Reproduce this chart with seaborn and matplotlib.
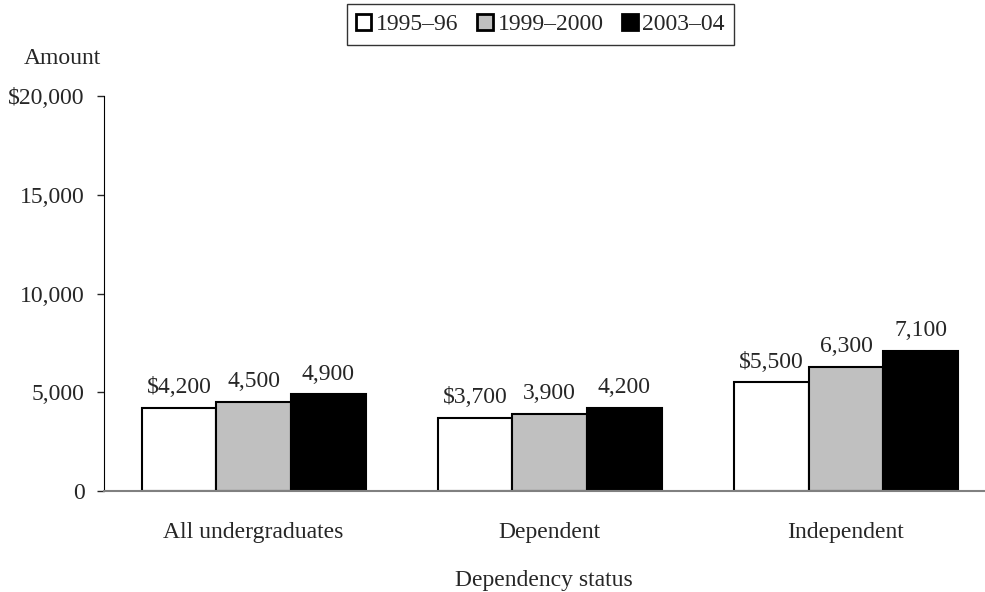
import pandas as pd
import matplotlib.pyplot as plt
import seaborn as sns

sns.set_style("white")
plt.rcParams['font.family'] = ['Liberation Serif', 'DejaVu Serif']

# Data
categories = ['All undergraduates', 'Dependent', 'Independent']
years = ['1995\u201396', '1999\u20132000', '2003\u201304']
amounts_1995 = [4200, 3700, 5500]
amounts_1999 = [4500, 3900, 6300]
amounts_2003 = [4900, 4200, 7100]
colors = ['white', '#C0C0C0', 'black']

df = pd.DataFrame({
    'status': categories * 3,
    'year': [years[0]] * 3 + [years[1]] * 3 + [years[2]] * 3,
    'amount': amounts_1995 + amounts_1999 + amounts_2003,
})

fs = 17

fig = plt.figure(figsize=(9.85, 5.92), dpi=100)
ax = fig.add_axes([104 / 985, 1 - 491 / 592, 880 / 985, 395 / 592])

sns.barplot(data=df, x='status', y='amount', hue='year', order=categories,
            hue_order=years, palette=colors, edgecolor='black', linewidth=1.5,
            width=0.756, saturation=1, ax=ax, legend=True)

# value labels: first series carries the dollar sign
for i, cont in enumerate(ax.containers):
    labels = []
    for v in cont.datavalues:
        s = f"{v:,.0f}"
        if i == 0:
            s = "$" + s
        labels.append(s)
    ax.bar_label(cont, labels=labels, padding=7, fontsize=fs)

ax.set_xlim(-0.505, 2.466)
ax.set_ylim(0, 20000)
ax.set_yticks([0, 5000, 10000, 15000, 20000])
ax.set_yticklabels(['0', '5,000', '10,000', '15,000', '$20,000'], fontsize=fs)
ax.set_xticks(range(len(categories)))
ax.set_xticklabels(categories, fontsize=fs)
ax.set_xlabel('Dependency status', fontsize=fs, labelpad=20)
ax.set_ylabel('')
fig.text(62 / 985, 1 - 58 / 592, 'Amount', fontsize=fs, ha='center', va='center')

sns.despine(ax=ax)
ax.spines['left'].set_color('black')
ax.spines['bottom'].set_color('#808080')
ax.spines['bottom'].set_linewidth(1.5)
ax.tick_params(axis='y', which='both', left=True, length=5, width=1, direction='out', pad=9)
ax.tick_params(axis='x', bottom=False, length=0, pad=22)

leg = ax.legend(loc='center', bbox_to_anchor=(540.5 / 985, 1 - 24.5 / 592),
                bbox_transform=fig.transFigure, ncol=3,
                frameon=True, fontsize=fs, handlelength=0.65, handleheight=0.65,
                handletextpad=0.2, columnspacing=0.8, borderpad=0.4, fancybox=False)
leg.get_frame().set_edgecolor('black')
leg.get_frame().set_linewidth(1)
for h in leg.legend_handles:
    h.set_edgecolor('black')
    h.set_linewidth(2)

plt.savefig('out.png', dpi=100)
